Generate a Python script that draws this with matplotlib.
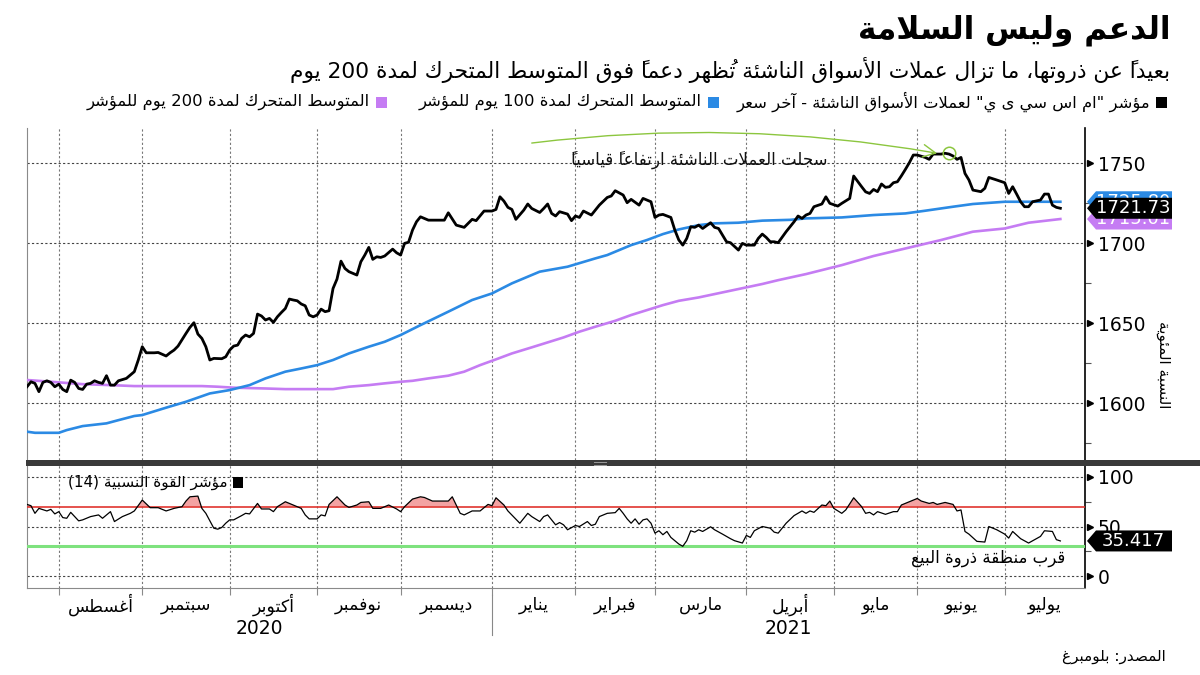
import numpy as np
import matplotlib
matplotlib.use('Agg')
import matplotlib.pyplot as plt
from matplotlib.patches import Polygon, Rectangle
from matplotlib.transforms import blended_transform_factory as blend

plt.rcParams['font.family'] = ['DejaVu Sans']

# ---- data (trading-day number counted from the first session) ----
start = '2020-07-22'

price_day = [0, 1, 2, 3, 4, 5, 6, 7, 8, 9, 10, 11, 12, 13, 14, 15, 16, 17, 18, 19, 20, 21, 22, 23, 25, 26, 27, 28, 29,
             30, 32, 33, 35, 36, 37, 38, 40, 41, 42, 43, 44, 45, 46, 47, 49, 50, 51, 52, 53, 54, 55, 56, 57, 58, 59,
             60, 61, 62, 63, 64, 65, 66, 67, 68, 69, 70, 71, 72, 73, 74, 75, 76, 77, 78, 79, 80, 81, 83, 84, 85, 86,
             87, 88, 89, 90, 92, 93, 94, 95, 96, 97, 98, 99, 101, 103, 105, 106, 108, 110, 111, 112, 113, 115, 117,
             118, 119, 120, 121, 122, 123, 125, 126, 127, 129, 130, 131, 132, 133, 134, 136, 137, 138, 139, 140, 142,
             143, 144, 146, 147, 148, 150, 151, 152, 154, 155, 157, 158, 159, 160, 162, 163, 164, 165, 166, 167, 168,
             169, 170, 172, 173, 174, 176, 177, 179, 180, 181, 183, 184, 185, 186, 187, 188, 189, 191, 193, 194, 195,
             196, 197, 198, 200, 201, 202, 204, 205, 207, 208, 210, 211, 212, 213, 214, 215, 216, 217, 218, 219, 220,
             221, 222, 223, 224, 226, 227, 228, 230, 231, 232, 233, 234, 235, 236, 237, 238, 240, 241, 242, 244, 246,
             247, 248, 249, 250, 251, 252, 253, 255, 256, 257, 258, 259, 260]
price_val = [1610.2, 1613.3, 1612.3, 1607.1, 1612.9, 1613.9, 1612.9, 1610.2, 1611.8, 1608.5, 1607.1, 1614.3, 1612.9,
             1609.1, 1608.5, 1611.8, 1612.3, 1613.9, 1612.9, 1612.3, 1617.1, 1611.2, 1611.2, 1613.9, 1615.4, 1617.5,
             1619.6, 1626.9, 1635.2, 1631.4, 1631.4, 1631.6, 1629.4, 1631.4, 1633.1, 1635.6, 1643.5, 1647.3, 1650.2,
             1643.1, 1640.4, 1635.2, 1626.9, 1627.9, 1627.7, 1628.9, 1633.1, 1635.6, 1636.2, 1640.4, 1642.5, 1641.4,
             1643.5, 1655.6, 1654.4, 1651.9, 1652.9, 1650.4, 1653.9, 1656.6, 1659.1, 1665.0, 1664.4, 1663.9, 1661.9,
             1660.8, 1655.0, 1653.9, 1655.0, 1658.7, 1657.1, 1657.7, 1671.6, 1677.5, 1688.7, 1684.1, 1682.1, 1680.0,
             1688.3, 1692.5, 1697.3, 1689.8, 1691.4, 1691.0, 1691.9, 1696.2, 1693.9, 1692.5, 1699.8, 1700.5, 1708.1,
             1713.3, 1716.4, 1714.3, 1714.3, 1714.3, 1718.9, 1711.2, 1709.8, 1712.3, 1714.8, 1714.0, 1720.0, 1720.0,
             1721.0, 1728.9, 1726.2, 1722.3, 1721.0, 1714.8, 1720.6, 1724.4, 1721.6, 1719.1, 1721.6, 1724.4, 1718.5,
             1716.9, 1719.6, 1718.1, 1714.0, 1716.9, 1716.0, 1720.0, 1717.5, 1720.6, 1723.7, 1728.5, 1729.4, 1732.7,
             1730.0, 1725.2, 1727.3, 1723.7, 1727.9, 1725.8, 1716.0, 1717.5, 1717.9, 1716.0, 1708.1, 1701.9, 1698.7,
             1702.9, 1710.2, 1709.8, 1711.2, 1709.1, 1712.7, 1709.8, 1709.1, 1700.8, 1700.2, 1695.6, 1699.8, 1698.7,
             1698.7, 1702.9, 1705.6, 1703.5, 1700.8, 1700.8, 1700.2, 1707.1, 1713.3, 1716.9, 1715.4, 1717.5, 1718.5,
             1722.7, 1724.4, 1728.9, 1724.8, 1723.1, 1724.8, 1727.9, 1741.9, 1735.2, 1732.0, 1731.0, 1733.5, 1732.1,
             1736.9, 1734.8, 1735.2, 1737.7, 1738.3, 1742.0, 1746.0, 1750.2, 1755.0, 1755.0, 1753.5, 1752.3, 1755.6,
             1755.6, 1756.1, 1755.6, 1754.4, 1752.3, 1753.5, 1743.5, 1739.4, 1733.1, 1732.1, 1734.2, 1741.0, 1739.4,
             1737.7, 1731.0, 1735.2, 1730.6, 1725.8, 1722.7, 1722.7, 1725.8, 1726.9, 1730.6, 1730.6, 1723.7, 1722.3,
             1721.73]

ma100_day = [0, 2, 8, 10, 14, 20, 23, 27, 29, 35, 40, 46, 51, 56, 60, 65, 69, 73, 77, 81, 86, 90, 94, 99, 106, 112,
             117, 122, 129, 136, 143, 146, 152, 156, 160, 164, 169, 173, 179, 185, 192, 196, 205, 213, 221, 226, 233,
             238, 246, 252, 260]
ma100_val = [1582.1, 1581.4, 1581.4, 1583.1, 1585.6, 1587.3, 1589.3, 1591.9, 1592.5, 1597.1, 1600.8, 1606.0, 1608.1,
             1611.2, 1615.4, 1619.6, 1621.6, 1623.7, 1626.9, 1631.0, 1635.2, 1638.3, 1642.5, 1648.7, 1657.1, 1664.4,
             1668.5, 1674.8, 1682.1, 1685.2, 1690.4, 1692.5, 1698.7, 1701.9, 1705.6, 1708.5, 1711.2, 1712.3, 1712.7,
             1714.0, 1714.5, 1715.4, 1716.0, 1717.5, 1718.5, 1720.2, 1722.7, 1724.4, 1725.8, 1725.8, 1725.8]

ma200_day = [0, 6, 14, 21, 27, 35, 44, 48, 52, 60, 65, 73, 77, 81, 86, 90, 94, 97, 101, 106, 110, 114, 118, 122, 127,
             131, 135, 139, 143, 148, 152, 156, 160, 164, 169, 173, 177, 181, 185, 189, 196, 205, 213, 221, 230, 238,
             246, 252, 260]
ma200_val = [1614.4, 1613.3, 1611.8, 1611.2, 1610.6, 1610.6, 1610.6, 1610.2, 1609.6, 1609.1, 1608.7, 1608.7, 1608.7,
             1610.2, 1611.2, 1612.3, 1613.3, 1613.9, 1615.4, 1617.1, 1619.6, 1623.7, 1627.3, 1631.0, 1634.8, 1637.9,
             1641.0, 1644.6, 1647.7, 1651.4, 1655.0, 1658.1, 1661.2, 1663.9, 1666.0, 1668.1, 1670.2, 1672.3, 1674.4,
             1676.8, 1680.6, 1686.2, 1691.9, 1696.6, 1701.9, 1707.1, 1709.1, 1712.7, 1715.01]

rsi_day = [0, 1, 2, 3, 5, 6, 7, 8, 9, 10, 11, 13, 14, 16, 18, 19, 21, 22, 24, 26, 27, 29, 31, 33, 35, 37, 39, 40, 41,
           43, 44, 45, 47, 48, 49, 50, 51, 52, 54, 55, 56, 58, 59, 61, 62, 63, 65, 67, 69, 70, 71, 73, 74, 75, 76, 78,
           80, 81, 83, 84, 86, 87, 89, 91, 93, 94, 95, 97, 99, 100, 102, 106, 107, 109, 110, 112, 114, 116, 117, 118,
           120, 121, 124, 126, 127, 129, 130, 131, 133, 134, 135, 136, 138, 139, 141, 142, 143, 144, 146, 148, 149,
           150, 151, 152, 153, 154, 155, 156, 157, 158, 159, 160, 161, 162, 164, 165, 166, 167, 168, 169, 170, 172,
           173, 175, 177, 178, 180, 181, 182, 183, 185, 187, 188, 189, 191, 193, 195, 196, 197, 198, 200, 201, 202,
           203, 205, 206, 208, 210, 211, 212, 213, 214, 216, 218, 219, 220, 222, 224, 225, 227, 228, 229, 231, 232,
           233, 234, 235, 236, 237, 239, 241, 242, 244, 246, 247, 248, 250, 252, 254, 255, 256, 258, 259, 260]
rsi_val = [72.3, 71, 63.3, 68.3, 65.7, 67.3, 62.7, 65, 59, 58.3, 64.3, 55.7, 56.7, 60, 61.7, 58.3, 65, 55, 60, 63.3,
           65.7, 76.7, 69, 69, 65.7, 68.3, 70, 75.7, 80, 80.7, 68.3, 63.3, 48.3, 47.3, 49, 53.3, 56.7, 56.7, 61, 63.3,
           62.7, 73.3, 67.7, 67.7, 65, 70, 75, 71.7, 68.3, 61.7, 57.7, 57.7, 61.7, 60.7, 72.3, 80, 71.7, 69.3, 71.7,
           74.3, 75, 68.3, 68.3, 71.7, 67.7, 65, 70, 77.7, 80, 79.3, 75.7, 75.7, 80, 63.3, 61.7, 65.7, 65.7, 72.3, 71,
           79, 71.7, 65.7, 53.3, 63.3, 60, 55, 60, 61.7, 51.7, 54, 51.7, 46.7, 51, 50, 55, 51, 52.3, 60, 63.3, 64,
           68.3, 63.3, 57.7, 53.3, 57.7, 52.3, 56.7, 57.7, 53.3, 43.3, 45.7, 41.7, 45, 39, 32.3, 30, 35.7, 45.7, 44.3,
           46.7, 45, 49.7, 46.7, 42.3, 37.7, 35.7, 33.3, 41, 39, 45.7, 50, 48.3, 44.3, 43.3, 53.3, 61, 65.7, 63.3,
           65.7, 64.3, 71.7, 71, 75.7, 68.3, 63.3, 66.7, 79, 70, 63.3, 64.3, 61.7, 65, 62.3, 65, 65, 71.7, 75, 78.3,
           75.7, 73.3, 74.3, 72.3, 74.3, 73.3, 72.3, 65.7, 66.7, 45, 42.3, 35, 34.3, 50, 46.7, 42.3, 38.3, 45, 37.7,
           33.3, 37.7, 40, 45.7, 45, 36.7, 35.417]

months = ['أغسطس', 'سبتمبر', 'أكتوبر', 'نوفمبر', 'ديسمبر', 'يناير', 'فبراير', 'مارس', 'أبريل', 'مايو',
          'يونيو', 'يوليو']
years = ['2020', '2021']

title = 'الدعم وليس السلامة'
subtitle = 'بعيداً عن ذروتها، ما تزال عملات الأسواق الناشئة تُظهر دعماً فوق المتوسط المتحرك لمدة 200 يوم'
legend_labels = ['مؤشر "ام اس سي ى ي" لعملات الأسواق الناشئة - آخر سعر',
                 'المتوسط المتحرك لمدة 100 يوم للمؤشر',
                 'المتوسط المتحرك لمدة 200 يوم للمؤشر']
rsi_label = 'مؤشر القوة النسبية (14)'
note = 'سجلت العملات الناشئة ارتفاعاً قياسياً'
oversold = 'قرب منطقة ذروة البيع'
source = 'المصدر: بلومبرغ'
ylabel = 'النسبة المئوية'

BLACK, BLUE, PURPLE = '#000000', '#2b8ae4', '#c57cf3'
NOTE_GREEN = '#8cc63f'

# ---- minimal arabic shaping (matplotlib draws glyphs left to right, no shaping) ----
FORMS = {'ء': (0xFE80, 1), 'آ': (0xFE81, 2), 'أ': (0xFE83, 2), 'ؤ': (0xFE85, 2), 'إ': (0xFE87, 2),
         'ئ': (0xFE89, 4), 'ا': (0xFE8D, 2), 'ب': (0xFE8F, 4), 'ة': (0xFE93, 2), 'ت': (0xFE95, 4),
         'ث': (0xFE99, 4), 'ج': (0xFE9D, 4), 'ح': (0xFEA1, 4), 'خ': (0xFEA5, 4), 'د': (0xFEA9, 2),
         'ذ': (0xFEAB, 2), 'ر': (0xFEAD, 2), 'ز': (0xFEAF, 2), 'س': (0xFEB1, 4), 'ش': (0xFEB5, 4),
         'ص': (0xFEB9, 4), 'ض': (0xFEBD, 4), 'ط': (0xFEC1, 4), 'ظ': (0xFEC5, 4), 'ع': (0xFEC9, 4),
         'غ': (0xFECD, 4), 'ف': (0xFED1, 4), 'ق': (0xFED5, 4), 'ك': (0xFED9, 4), 'ل': (0xFEDD, 4),
         'م': (0xFEE1, 4), 'ن': (0xFEE5, 4), 'ه': (0xFEE9, 4), 'و': (0xFEED, 2), 'ى': (0xFEEF, 2),
         'ي': (0xFEF1, 4)}
LAMALEF = {'آ': 0xFEF5, 'أ': 0xFEF7, 'إ': 0xFEF9, 'ا': 0xFEFB}
MIRROR = {'(': ')', ')': '('}


def is_mark(c):
    return 0x064B <= ord(c) <= 0x065F or ord(c) == 0x0670


def is_digit(c):
    return c.isascii() and c.isdigit()


def shape(s):
    out, i, n, prev = [], 0, len(s), False
    while i < n:
        c = s[i]
        if is_mark(c):
            out.append(c)
            i += 1
            continue
        if c not in FORMS:
            out.append(c)
            prev = False
            i += 1
            continue
        j = i + 1
        while j < n and is_mark(s[j]):
            j += 1
        nxt = j < n and s[j] in FORMS and FORMS[s[j]][1] > 1
        if c == 'ل' and j < n and s[j] in LAMALEF:
            out.append(chr(LAMALEF[s[j]] + int(prev)))
            out.extend(s[i + 1:j])
            prev = False
            i = j + 1
            continue
        base, k = FORMS[c]
        if k == 4 and prev and nxt:
            code = base + 3
        elif k == 4 and nxt:
            code = base + 2
        elif prev and k > 1:
            code = base + 1
        else:
            code = base
        out.append(chr(code))
        prev = k == 4
        i += 1
    return ''.join(out)


def visual(s):
    # reverse for right-to-left display, keeping digit runs in order
    toks, i = [], 0
    while i < len(s):
        if is_digit(s[i]):
            j = i
            while j < len(s) and (is_digit(s[j]) or (s[j] == '.' and j + 1 < len(s) and is_digit(s[j + 1]))):
                j += 1
            toks.append(s[i:j])
        else:
            j = i + 1
            while j < len(s) and is_mark(s[j]):
                j += 1
            # mark drawn before its letter so it sits over it
            toks.append(s[i + 1:j] + MIRROR.get(s[i], s[i]))
        i = j
    return ''.join(reversed(toks))


def ar(s):
    return visual(shape(s))


# ---- figure ----
W, H = 1200, 675
fig = plt.figure(figsize=(W / 100, H / 100), dpi=100)
fig.patch.set_facecolor('white')


def fx(px):
    return px / W


def fy(py):
    return 1 - py / H


L, R = 27, 1085
ax1 = fig.add_axes([fx(L), fy(460), fx(R - L), (460 - 128) / H])
ax2 = fig.add_axes([fx(L), fy(588), fx(R - L), (588 - 465) / H])

x_end = 266.2
month_starts = np.arange('2020-08', '2021-08', dtype='datetime64[M]').astype('datetime64[D]')
bounds = np.busday_count(np.datetime64(start), np.busday_offset(month_starts, 0, roll='forward'))

for ax in (ax1, ax2):
    ax.set_xlim(0, x_end)
    ax.set_facecolor('none')
    for b in bounds:
        ax.axvline(b, color='#777777', lw=0.8, ls=(0, (2, 2)), zorder=1)
    ax.spines['top'].set_visible(False)
    ax.spines['left'].set_color('#8a8a8a')
    ax.spines['right'].set_color('black')
    ax.spines['right'].set_linewidth(1.2)
    ax.yaxis.tick_right()
    ax.tick_params(axis='y', which='major', length=0, pad=9, labelsize=13.5, labelcolor='black')
    ax.tick_params(axis='y', which='minor', length=4, width=0.8, color='#555555', direction='out')

# top panel
ax1.set_ylim(1564.4, 1771.9)
ax1.spines['bottom'].set_visible(False)
ax1.set_xticks([])
major1 = [1600, 1650, 1700, 1750]
ax1.set_yticks(major1)
ax1.set_yticks([1575, 1625, 1675, 1725], minor=True)
for v in major1:
    ax1.axhline(v, color='#444444', lw=0.8, ls=(0, (2, 2)), zorder=1)

ax1.plot(ma200_day, ma200_val, color=PURPLE, lw=1.9, zorder=3)
ax1.plot(ma100_day, ma100_val, color=BLUE, lw=1.9, zorder=3)
ax1.plot(price_day, price_val, color=BLACK, lw=2.0, zorder=4)

# record-high note
pk = int(np.argmax(price_val))
ax1.plot(price_day[pk] + 1, price_val[pk], marker='o', ms=9, mfc='none', mec=NOTE_GREEN, mew=1.1, zorder=5)
ax1.annotate('', xy=(price_day[pk] - 2, price_val[pk]), xytext=(127, 1762.5),
             arrowprops=dict(arrowstyle='->,head_length=0.9,head_width=0.45', color=NOTE_GREEN, lw=1.0,
                             shrinkA=0, shrinkB=0, connectionstyle='arc3,rad=-0.075'), zorder=5)
ax1.text(201.5, 1752, ar(note), ha='right', va='center', fontsize=12, color='#111111', zorder=6)

# bottom panel
ax2.set_ylim(-12.1, 112.1)
ax2.spines['bottom'].set_color('#8a8a8a')
ax2.set_yticks([0, 50, 100])
ax2.set_yticks([25, 75], minor=True)
for v in [0, 50, 100]:
    ax2.axhline(v, color='#444444', lw=0.8, ls=(0, (2, 2)), zorder=1)
ax2.set_xticks(bounds)
ax2.set_xticklabels([])
ax2.tick_params(axis='x', length=5, color='#8a8a8a', width=0.8)

rsi = np.array(rsi_val)
ax2.fill_between(rsi_day, rsi, 70, where=rsi > 70, interpolate=True, color='#f3a3a3', lw=0, zorder=2)
ax2.axhline(70, color='#e0352f', lw=1.2, zorder=3)
ax2.axhline(30, color='#7ee27e', lw=2.2, zorder=3)
ax2.plot(rsi_day, rsi_val, color='black', lw=0.9, zorder=4)
ax2.text(1038 / 1058, 18.5, ar(oversold), transform=blend(ax2.transAxes, ax2.transData),
         ha='right', va='center', fontsize=12)

# arrow heads on the value axis
for ax, ticks in ((ax1, major1), (ax2, [0, 50, 100])):
    ax.plot([1 + 5 / 1058] * len(ticks), ticks, ls='none', marker='>', ms=5, color='black',
            transform=blend(ax.transAxes, ax.transData), clip_on=False, zorder=6)


def tag(ax, value, color, text, h_px, px_per_unit, z):
    h = h_px / px_per_unit / 2
    t = blend(ax.transAxes, ax.transData)
    pts = [(1 + 2 / 1058, value), (1 + 11 / 1058, value + h), (1 + 87 / 1058, value + h),
           (1 + 87 / 1058, value - h), (1 + 11 / 1058, value - h)]
    ax.add_patch(Polygon(pts, closed=True, transform=t, facecolor=color, edgecolor='none', clip_on=False,
                         zorder=z))
    ax.text(1 + 48 / 1058, value, text, transform=t, ha='center', va='center', color='white',
            fontsize=13, clip_on=False, zorder=z + 0.1)


tag(ax1, ma100_val[-1], BLUE, '%.2f' % ma100_val[-1], 21, 1.6, 7)
tag(ax1, ma200_val[-1], PURPLE, '%.2f' % ma200_val[-1], 21, 1.6, 7.2)
tag(ax1, price_val[-1], BLACK, '%.2f' % price_val[-1], 21, 1.6, 7.4)
tag(ax2, rsi_val[-1], BLACK, '%.3f' % rsi_val[-1], 21, 0.99, 7)

# month and year labels
edges = list(bounds) + [x_end]
xt = blend(ax2.transData, ax2.transAxes)
for i, m in enumerate(months):
    ax2.text((edges[i] + edges[i + 1]) / 2, -0.14, ar(m), transform=xt, ha='center', va='center',
             fontsize=12.5, clip_on=False)
jan = bounds[5]
ax2.text(jan / 2, -0.33, years[0], transform=xt, ha='center', va='center', fontsize=13.5, clip_on=False)
ax2.text((jan + x_end) / 2, -0.33, years[1], transform=xt, ha='center', va='center', fontsize=13.5, clip_on=False)
ax2.plot([jan, jan], [-0.06, -0.38], transform=xt, color='#888888', lw=0.8, clip_on=False)

# panel separator
fig.patches.append(Rectangle((fx(26), fy(466)), 1 - fx(26), 6 / H, transform=fig.transFigure,
                             facecolor='#3a3a3a', edgecolor='none', zorder=5))
for dy in (462, 464.5):
    fig.lines.append(plt.Line2D([fx(594), fx(606)], [fy(dy), fy(dy)], transform=fig.transFigure,
                                color='#9a9a9a', lw=0.7, zorder=6))

# y label
fig.text(fx(1163), fy(365), ar(ylabel), rotation=270, ha='center', va='center', fontsize=11)

# headings
fig.text(fx(1170), fy(30), ar(title), ha='right', va='center', fontsize=22.5, fontweight='bold')
fig.text(fx(1170), fy(70), ar(subtitle), ha='right', va='center', fontsize=15.7)

leg_sq = [1161, 713, 381]
leg_col = [BLACK, BLUE, PURPLE]
for xs, col, lab in zip(leg_sq, leg_col, legend_labels):
    fig.patches.append(Rectangle((fx(xs - 5), fy(108)), 11 / W, 11 / H, transform=fig.transFigure,
                                 facecolor=col, edgecolor='none'))
    fig.text(fx(xs - 11), fy(102), ar(lab), ha='right', va='center', fontsize=11.8)

fig.patches.append(Rectangle((fx(233), fy(488)), 10 / W, 11 / H, transform=fig.transFigure,
                             facecolor='black', edgecolor='none', zorder=6))
fig.text(fx(228), fy(482), ar(rsi_label), ha='right', va='center', fontsize=11, zorder=6)

fig.text(fx(1166), fy(657), ar(source), ha='right', va='center', fontsize=11)

fig.savefig('out.png', dpi=100)
